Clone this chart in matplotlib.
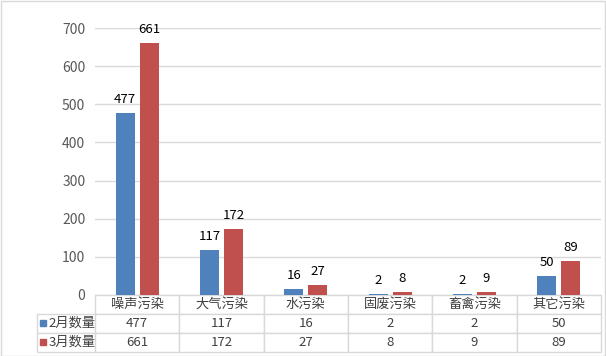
import matplotlib
matplotlib.use("Agg")
import matplotlib.pyplot as plt
import numpy as np

plt.rcParams["font.family"] = ["Noto Sans CJK SC", "DejaVu Sans"]

categories = ["噪声污染", "大气污染", "水污染", "固废污染", "畜禽污染", "其它污染"]
series_names = ["2月数量", "3月数量"]
feb_counts = [477, 117, 16, 2, 2, 50]
mar_counts = [661, 172, 27, 8, 9, 89]
colors = ["#4F81BD", "#C0504D"]
y_ticks = [0, 100, 200, 300, 400, 500, 600, 700]

W, H = 606, 356
AX_L, AX_R, AX_T, AX_B = 95, 601, 28, 295
ax_w = AX_R - AX_L
ax_h = AX_B - AX_T
fig = plt.figure(figsize=(W / 100, H / 100), dpi=100)
ax = fig.add_axes([AX_L / W, (H - AX_B) / H, ax_w / W, ax_h / H])

x = np.arange(len(categories))
bar_w = 0.226
gap = 0.06
for i, (vals, c) in enumerate(zip([feb_counts, mar_counts], colors)):
    offs = (i - 0.5) * (bar_w + gap)
    bars = ax.bar(x + offs, vals, width=bar_w, color=c, zorder=3)
    for b, v in zip(bars, vals):
        ax.annotate(str(v), (b.get_x() + b.get_width() / 2, v),
                    xytext=(0, 5), textcoords="offset points",
                    ha="center", va="bottom", fontsize=9.5, color="#000000")

ax.set_xlim(-0.5, len(categories) - 0.5)
ax.set_ylim(0, 700)
ax.set_yticks(y_ticks)
ax.tick_params(axis="y", length=0, pad=7, labelsize=10, labelcolor="#595959")
ax.set_xticks([])
ax.grid(axis="y", color="#D9D9D9", linewidth=1, zorder=0)
for s in ax.spines.values():
    s.set_visible(False)

# data table under the plot
cell_text = [[""] + categories]
for name, vals in zip(series_names, [feb_counts, mar_counts]):
    cell_text.append([name] + [str(v) for v in vals])

label_w = 58
col_w = ax_w / len(categories)
total_w = label_w + ax_w
tbl_h = 56.5
tbl = ax.table(cellText=cell_text,
               colWidths=[label_w / total_w] + [col_w / total_w] * len(categories),
               cellLoc="center",
               bbox=[-label_w / ax_w, -tbl_h / ax_h, total_w / ax_w, tbl_h / ax_h])
tbl.auto_set_font_size(False)
tbl.set_fontsize(9.5)
for (r, c), cell in tbl.get_celld().items():
    cell.set_edgecolor("#D9D9D9")
    cell.set_linewidth(1)
    cell.get_text().set_color("#404040")
    if r == 0 and c == 0:
        cell.visible_edges = ""
    if c == 0 and r > 0:
        cell.get_text().set_ha("left")
        cell._loc = "left"
        cell.PAD = 0.2

# legend keys in the label column
for r, col in zip([1, 2], colors):
    yc = -(r + 0.5) * (tbl_h / 3) / ax_h
    ax.plot([-(label_w - 6) / ax_w], [yc], marker="s", markersize=4.3,
            color=col, transform=ax.transAxes, clip_on=False)

# outer border
fig.patches.append(plt.Rectangle((0.5 / W, 0.5 / H), 1 - 1.5 / W, 1 - 1.5 / H,
                                 transform=fig.transFigure, fill=False,
                                 edgecolor="#D9D9D9", linewidth=1))

fig.savefig("out.png", dpi=100)
